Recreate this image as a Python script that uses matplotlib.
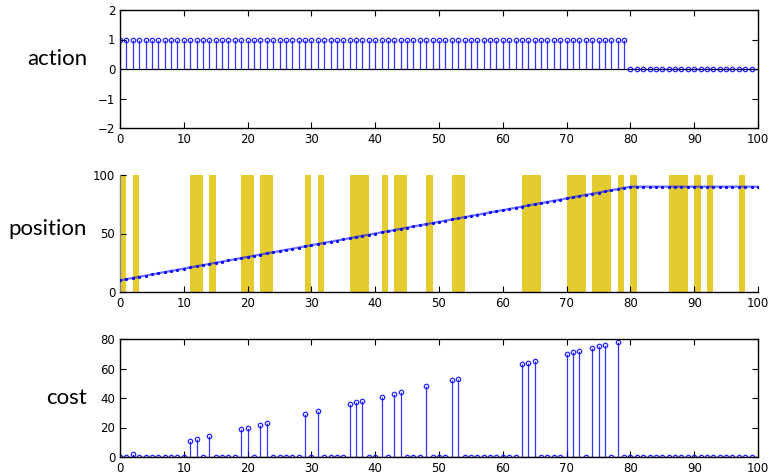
import matplotlib.pyplot as plt
import numpy as np

# time steps
t_action = list(range(100))
t_position = list(range(101))

action = [1] * 80 + [0] * 20

position = [10, 11, 12, 13, 14, 15, 16, 17, 18, 19,
            20, 21, 22, 23, 24, 25, 26, 27, 28, 29,
            30, 31, 32, 33, 34, 35, 36, 37, 38, 39,
            40, 41, 42, 43, 44, 45, 46, 47, 48, 49,
            50, 51, 52, 53, 54, 55, 56, 57, 58, 59,
            60, 61, 62, 63, 64, 65, 66, 67, 68, 69,
            70, 71, 72, 73, 74, 75, 76, 77, 78, 79,
            80, 81, 82, 83, 84, 85, 86, 87, 88, 89,
            90, 90, 90, 90, 90, 90, 90, 90, 90, 90,
            90, 90, 90, 90, 90, 90, 90, 90, 90, 90,
            90]

# cells highlighted in yellow (start of each unit-wide cell)
yellow_cells = [0, 2, 11, 12, 14, 19, 20, 22, 23, 29, 31, 36, 37, 38, 41,
                43, 44, 48, 52, 53, 63, 64, 65, 70, 71, 72, 74, 75, 76, 78,
                80, 86, 87, 88, 90, 92, 97]

cost = [0, 0, 2, 0, 0, 0, 0, 0, 0, 0,
        0, 11, 12, 0, 14, 0, 0, 0, 0, 19,
        20, 0, 22, 23, 0, 0, 0, 0, 0, 29,
        0, 31, 0, 0, 0, 0, 36, 37, 38, 0,
        0, 41, 0, 43, 44, 0, 0, 0, 48, 0,
        0, 0, 52, 53, 0, 0, 0, 0, 0, 0,
        0, 0, 0, 63, 64, 65, 0, 0, 0, 0,
        70, 71, 72, 0, 74, 75, 76, 0, 78, 0,
        0, 0, 0, 0, 0, 0, 0, 0, 0, 0,
        0, 0, 0, 0, 0, 0, 0, 0, 0, 0]

blue = '#0000ff'
yellow = '#e3cb30'

fig = plt.figure(figsize=(7.71, 4.74), dpi=100)
left, width = 120 / 771, 638 / 771
ax1 = fig.add_axes([left, 1 - 128 / 474, width, 118 / 474])
ax2 = fig.add_axes([left, 1 - 292 / 474, width, 117 / 474])
ax3 = fig.add_axes([left, 1 - 457 / 474, width, 118 / 474])

def stem_plot(ax, x, y):
    ax.axhline(0, color='k', lw=0.9, zorder=1)
    ml, sl, bl = ax.stem(x, y, linefmt='-', markerfmt='o', basefmt=' ')
    plt.setp(sl, color=blue, lw=0.9, alpha=0.8)
    plt.setp(ml, color=blue, markersize=3.2, markerfacecolor='none',
             markeredgewidth=0.9, alpha=0.85)

stem_plot(ax1, t_action, action)
ax1.set_ylim(-2, 2)
ax1.set_yticks([-2, -1, 0, 1, 2])
ax1.set_yticklabels(['\u22122', '\u22121', '0', '1', '2'])

ax2.bar(yellow_cells, [100] * len(yellow_cells), width=1, align='edge',
        color=yellow, linewidth=0, zorder=1)
ax2.plot(t_position, position, '-', color=blue, lw=1.6, alpha=0.55, zorder=2)
ax2.plot(t_position, position, '.', color=blue, markersize=2.5, zorder=3)
ax2.set_ylim(0, 100)
ax2.set_yticks([0, 50, 100])
for s in ['top', 'right']:
    ax2.spines[s].set_visible(False)
ax2.spines['left'].set_color('#888888')

stem_plot(ax3, t_action, cost)
ax3.set_ylim(0, 80)
ax3.set_yticks([0, 20, 40, 60, 80])

for ax in (ax1, ax2, ax3):
    ax.set_xlim(0, 100)
    ax.set_xticks(range(0, 101, 10))
    ax.tick_params(direction='in', labelsize=8.5, length=4, width=0.8)
    for s in ax.spines.values():
        s.set_linewidth(1.0)
for ax in (ax1, ax3):
    ax.tick_params(top=True, right=True)

label_font = dict(fontsize=16, family='Lato', ha='right', va='center')
fig.text(87 / 771, 1 - 59 / 474, 'action', **label_font)
fig.text(87 / 771, 1 - 229 / 474, 'position', **label_font)
fig.text(87 / 771, 1 - 398 / 474, 'cost', **label_font)

fig.savefig('out.png', dpi=100)
